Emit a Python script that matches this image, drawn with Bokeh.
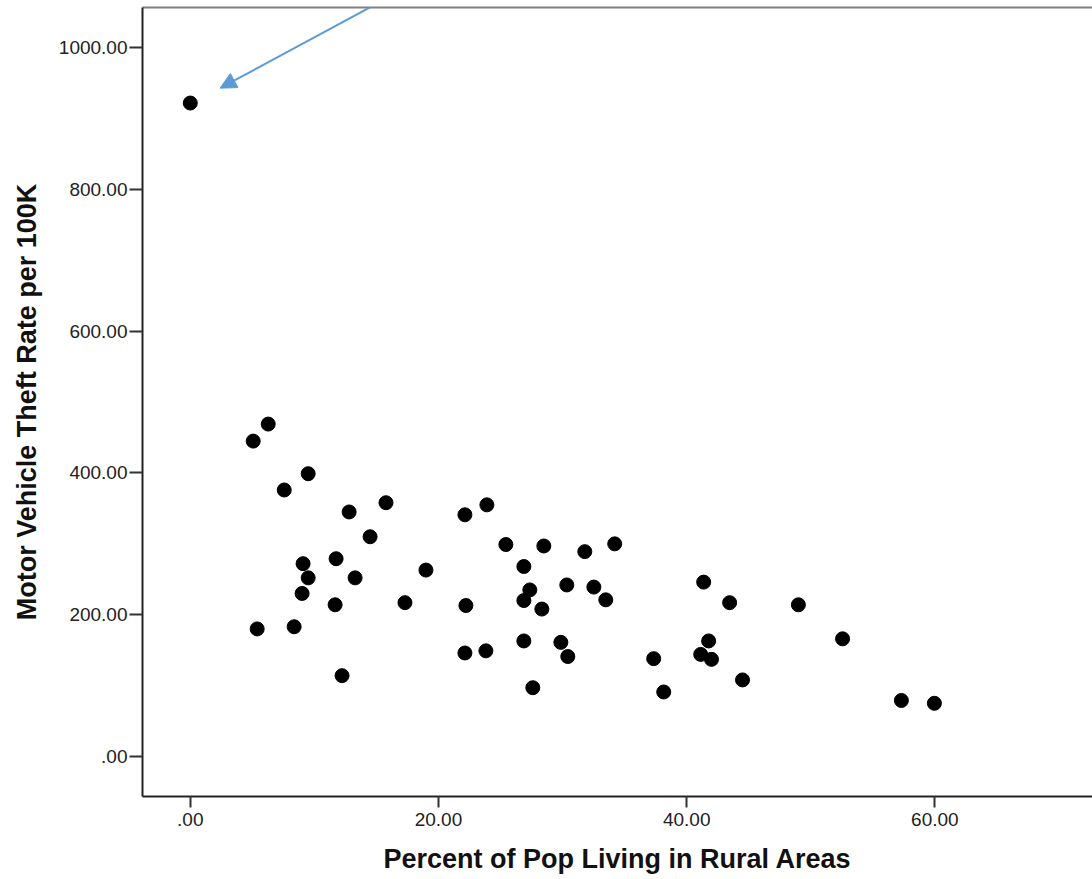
from bokeh.plotting import figure
from bokeh.models import (Range1d, FixedTicker, PrintfTickFormatter, LinearAxis,
                          Arrow, NormalHead)
from bokeh.embed import file_html
from bokeh.resources import INLINE

# Data (Percent rural vs motor vehicle theft rate)
pct_rural = [0, 5.07, 6.28, 7.57, 9.50, 5.39, 8.37, 9.09, 9.50, 9.01,
             11.67, 11.75, 12.23, 12.80, 13.28, 14.49, 15.77, 17.30, 18.99, 22.13,
             22.21, 22.13, 23.90, 23.82, 25.43, 26.88, 27.36, 26.88, 28.33, 28.49,
             26.88, 27.6, 29.86, 30.34, 30.42, 31.79, 32.52, 33.48, 34.2, 37.34,
             38.15, 41.37, 41.77, 41.13, 42.0, 43.46, 44.5, 49.0, 52.56, 57.3,
             59.96]
theft_rate = [922, 445, 469, 376, 399, 180, 183, 272, 252, 230,
              214, 279, 114, 345, 252, 310, 358, 217, 263, 341,
              213, 146, 355, 149, 299, 268, 235, 220, 208, 297,
              163, 97, 161, 242, 141, 289, 239, 221, 300, 138,
              91, 246, 163, 144, 137, 217, 108, 214, 166, 79,
              75]

x_ticks = [0, 20, 40, 60]
y_ticks = [0, 200, 400, 600, 800, 1000]

# annotation arrow (pointing at the outlier)
arrow_start = (15.86, 1070)
arrow_end = (2.40, 943)

TEXT = "#222222"

p = figure(width=1092, height=879, output_backend="svg", toolbar_location=None,
           x_range=Range1d(-3.85, 72.7), y_range=Range1d(-56.5, 1056.8),
           min_border_left=142, min_border_right=0, min_border_top=7,
           min_border_bottom=83)
p.outline_line_color = None
p.xgrid.visible = False
p.ygrid.visible = False
p.background_fill_color = "white"
p.border_fill_color = "white"

p.scatter(pct_rural, theft_rate, size=14, marker="circle",
          fill_color="black", line_color="black")

for ax in (p.xaxis[0], p.yaxis[0]):
    ax.axis_line_color = TEXT
    ax.axis_line_width = 2
    ax.major_tick_line_color = "#333333"
    ax.major_tick_line_width = 2
    ax.major_tick_in = 0
    ax.minor_tick_line_color = None
    ax.major_label_text_font = "Liberation Sans"
    ax.major_label_text_font_size = "19px"
    ax.major_label_text_color = TEXT
    ax.axis_label_text_font = "Liberation Sans"
    ax.axis_label_text_font_style = "bold"
    ax.axis_label_text_font_size = "27px"
    ax.axis_label_text_color = "#111111"
    ax.formatter = PrintfTickFormatter(format="%.2f")
    ax.major_label_overrides = {0: ".00"}

p.xaxis.ticker = FixedTicker(ticks=x_ticks)
p.yaxis.ticker = FixedTicker(ticks=y_ticks)
p.xaxis.major_tick_out = 11
p.yaxis.major_tick_out = 13
p.xaxis.major_label_standoff = 5
p.yaxis.major_label_standoff = 2
p.xaxis.axis_label = "Percent of Pop Living in Rural Areas"
p.yaxis.axis_label = "Motor Vehicle Theft Rate per 100K"
p.xaxis.axis_label_standoff = 15
p.yaxis.axis_label_standoff = 14

top = LinearAxis(ticker=FixedTicker(ticks=[]), axis_line_color="#808080",
                 axis_line_width=2, major_tick_line_color=None,
                 minor_tick_line_color=None, major_label_text_font_size="0px")
p.add_layout(top, "above")

p.add_layout(Arrow(end=NormalHead(size=16, fill_color="#5B9BD5", line_color="#5B9BD5"),
                   x_start=arrow_start[0], y_start=arrow_start[1],
                   x_end=arrow_end[0], y_end=arrow_end[1],
                   line_color="#5B9BD5", line_width=2))

open("out.html", "w").write(file_html(p, INLINE))
